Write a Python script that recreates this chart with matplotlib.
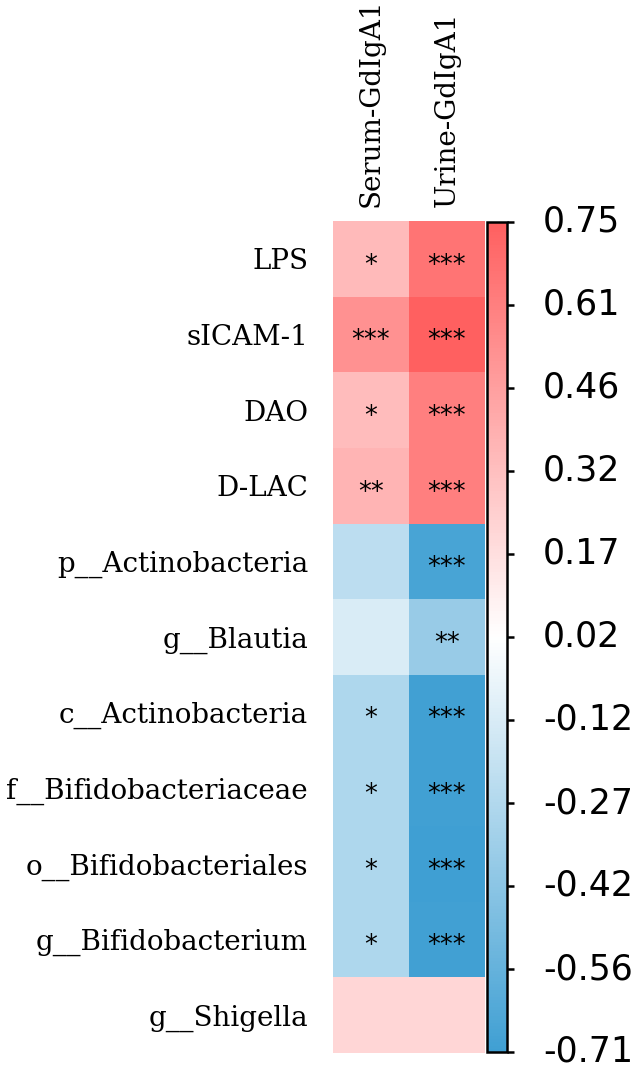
import numpy as np
import matplotlib
matplotlib.use("Agg")
import matplotlib.pyplot as plt
from matplotlib.colors import LinearSegmentedColormap, Normalize

rows = ["LPS", "sICAM-1", "DAO", "D-LAC", "p__Actinobacteria", "g__Blautia",
        "c__Actinobacteria", "f__Bifidobacteriaceae", "o__Bifidobacteriales",
        "g__Bifidobacterium", "g__Shigella"]
cols = ["Serum-GdIgA1", "Urine-GdIgA1"]

serum = [0.34, 0.53, 0.33, 0.37, -0.23, -0.12, -0.28, -0.28, -0.28, -0.28, 0.21]
urine = [0.66, 0.754, 0.61, 0.61, -0.67, -0.37, -0.70, -0.70, -0.708, -0.70, 0.21]

serum_sig = ["*", "***", "*", "**", "", "", "*", "*", "*", "*", ""]
urine_sig = ["***", "***", "***", "***", "***", "**", "***", "***", "***", "***", ""]

vmin, vmax = -0.708, 0.754

data = np.array([serum, urine]).T
sig = np.array([serum_sig, urine_sig]).T

cmap = LinearSegmentedColormap.from_list("bwr_custom", ["#3F9FD3", "#FFFFFF", "#FF6060"])
norm = Normalize(vmin=vmin, vmax=vmax)

W, H = 638, 1065
fig = plt.figure(figsize=(W / 100, H / 100), dpi=100)

ax = fig.add_axes([333 / W, 1 - 1053 / H, (485 - 333) / W, (1053 - 221) / H])
ax.pcolormesh(np.arange(len(cols) + 1), np.arange(len(rows) + 1), data,
              cmap=cmap, norm=norm, edgecolors="none")
ax.set_xlim(0, len(cols))
ax.set_ylim(len(rows), 0)
for s in ax.spines.values():
    s.set_visible(False)

ax.set_yticks(np.arange(len(rows)) + 0.5)
ax.set_yticklabels(rows, family="DejaVu Serif", fontsize=20)
ax.set_xticks(np.arange(len(cols)) + 0.5)
ax.set_xticklabels(cols, family="DejaVu Serif", fontsize=20, rotation=90)
ax.xaxis.tick_top()
ax.tick_params(axis="both", length=0)
ax.tick_params(axis="y", pad=18)
ax.tick_params(axis="x", pad=10)

for i in range(len(rows)):
    for j in range(len(cols)):
        if sig[i, j]:
            ax.text(j + 0.5, i + 0.5 + 0.09, sig[i, j], ha="center", va="center",
                    fontsize=18.5, family="DejaVu Sans", color="black")

cax = fig.add_axes([487 / W, 1 - 1052 / H, (507 - 487) / W, (1052 - 222) / H])
cb = fig.colorbar(plt.cm.ScalarMappable(norm=norm, cmap=cmap), cax=cax)
ticks = np.linspace(vmin, vmax, 11)
cb.set_ticks(ticks)
cb.set_ticklabels(["%.2f" % t for t in ticks])
cb.outline.set_linewidth(1.8)
cb.outline.set_edgecolor("black")
cax.tick_params(labelsize=25, length=5, width=1.8, pad=21, colors="black")
for t in cax.get_yticklabels():
    t.set_family("DejaVu Sans")
    t.set_verticalalignment("center")

fig.savefig("out.png", dpi=100)
